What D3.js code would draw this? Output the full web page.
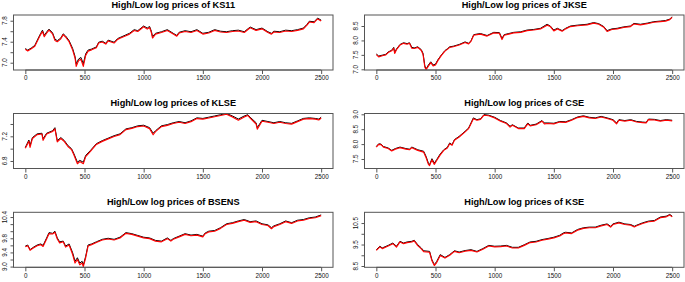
<!DOCTYPE html>
<html><head><meta charset="utf-8">
<script src="https://cdn.jsdelivr.net/npm/d3@7/dist/d3.min.js"></script>
<style>body{margin:0;background:#fff}svg{display:block}</style>
</head><body>
<svg id="chart" width="685" height="282"></svg>
<script>
// ---- data ----
const xTicks = [0, 500, 1000, 1500, 2000, 2500];

const ks11Days = [0,20,50,80,110,130,145,160,185,200,230,250,270,300,320,340,370,400,420,430,450,470,490,510,530,560,600,620,650,680,700,750,780,800,850,880,920,950,1000,1030,1050,1065,1075,1100,1150,1200,1250,1280,1300,1350,1400,1450,1500,1550,1600,1650,1700,1750,1800,1850,1900,1950,2000,2050,2080,2100,2150,2200,2250,2300,2350,2380,2400,2440,2470,2500];
const ks11High = [7.27,7.24,7.28,7.33,7.47,7.56,7.62,7.52,7.60,7.64,7.57,7.45,7.42,7.47,7.55,7.51,7.42,7.27,7.12,6.98,7.07,7.10,6.98,7.17,7.24,7.26,7.30,7.39,7.41,7.37,7.43,7.39,7.46,7.48,7.53,7.56,7.63,7.61,7.70,7.66,7.69,7.60,7.50,7.56,7.59,7.63,7.56,7.52,7.58,7.61,7.59,7.63,7.56,7.58,7.63,7.60,7.59,7.61,7.62,7.59,7.68,7.63,7.66,7.59,7.56,7.60,7.59,7.62,7.61,7.63,7.66,7.73,7.79,7.78,7.85,7.81];
const ks11Low = [7.255,7.225,7.265,7.315,7.45,7.54,7.595,7.495,7.58,7.62,7.55,7.425,7.40,7.455,7.535,7.49,7.40,7.24,7.09,6.93,7.04,7.065,6.93,7.14,7.22,7.245,7.285,7.375,7.395,7.355,7.415,7.375,7.445,7.465,7.515,7.545,7.615,7.595,7.685,7.64,7.67,7.575,7.47,7.545,7.575,7.615,7.545,7.505,7.565,7.595,7.575,7.615,7.545,7.565,7.615,7.585,7.575,7.595,7.605,7.575,7.665,7.615,7.645,7.575,7.545,7.585,7.575,7.605,7.595,7.615,7.645,7.715,7.775,7.765,7.835,7.795];

const jkseDays = [0,20,50,80,100,130,147,155,170,200,230,260,280,300,320,350,380,395,410,420,440,460,480,500,520,550,580,600,620,650,700,750,780,800,823,850,880,936,992,1040,1062,1080,1120,1161,1220,1274,1330,1387,1443,1470,1500,1530,1570,1600,1640,1700,1781,1837,1880,1922,1950,1990,2035,2090,2148,2176,2232,2290,2345,2400,2444,2480,2500];
const jkseHigh = [7.53,7.46,7.49,7.52,7.60,7.66,7.76,7.58,7.70,7.86,7.92,7.89,7.92,7.76,7.74,7.78,7.68,7.55,7.12,7.01,7.15,7.26,7.15,7.18,7.33,7.50,7.65,7.71,7.78,7.80,7.86,7.95,7.90,7.99,8.20,8.22,8.24,8.17,8.28,8.27,8.07,8.20,8.24,8.28,8.30,8.36,8.38,8.42,8.56,8.50,8.36,8.42,8.34,8.42,8.50,8.53,8.56,8.62,8.58,8.48,8.34,8.40,8.42,8.47,8.50,8.59,8.56,8.60,8.65,8.67,8.69,8.74,8.82];
const jkseLow = [7.51,7.43,7.47,7.50,7.58,7.64,7.73,7.55,7.68,7.84,7.90,7.87,7.90,7.73,7.72,7.76,7.65,7.51,7.07,6.99,7.11,7.23,7.12,7.15,7.30,7.48,7.63,7.69,7.76,7.78,7.84,7.93,7.88,7.97,8.18,8.20,8.22,8.15,8.26,8.25,8.03,8.18,8.22,8.26,8.28,8.34,8.36,8.40,8.53,8.48,8.33,8.40,8.32,8.40,8.48,8.51,8.54,8.60,8.56,8.46,8.31,8.38,8.40,8.45,8.48,8.57,8.54,8.58,8.63,8.65,8.67,8.72,8.80];

const klseDays = [0,30,40,60,100,140,150,180,230,250,270,300,330,360,390,410,440,460,490,510,550,600,650,700,750,800,850,900,950,1000,1050,1080,1100,1150,1200,1250,1300,1350,1400,1450,1500,1550,1600,1650,1700,1750,1800,1850,1880,1900,1950,1960,2000,2050,2100,2150,2200,2250,2300,2350,2400,2450,2480,2500];
const klseHigh = [7.02,7.14,7.05,7.18,7.24,7.25,7.16,7.25,7.29,7.34,7.13,7.18,7.13,7.05,7.00,6.92,6.78,6.81,6.78,6.89,6.97,7.08,7.13,7.17,7.21,7.24,7.32,7.34,7.37,7.38,7.34,7.25,7.29,7.37,7.39,7.42,7.44,7.42,7.45,7.50,7.49,7.51,7.53,7.55,7.57,7.53,7.48,7.53,7.55,7.51,7.42,7.34,7.46,7.44,7.42,7.44,7.42,7.41,7.45,7.49,7.50,7.49,7.48,7.51];
const klseLow = [7.005,7.12,7.02,7.165,7.228,7.238,7.135,7.238,7.278,7.32,7.11,7.165,7.115,7.035,6.985,6.90,6.755,6.79,6.755,6.87,6.955,7.068,7.118,7.158,7.198,7.228,7.308,7.328,7.358,7.368,7.325,7.225,7.275,7.358,7.378,7.408,7.428,7.408,7.438,7.488,7.478,7.498,7.518,7.538,7.558,7.515,7.46,7.515,7.538,7.495,7.40,7.315,7.445,7.428,7.408,7.428,7.408,7.398,7.438,7.478,7.488,7.478,7.465,7.498];

const cseDays = [0,20,40,60,100,130,160,200,250,280,300,350,400,420,440,450,470,490,510,540,570,600,620,640,660,700,750,780,800,820,850,880,910,950,1000,1050,1100,1130,1150,1200,1250,1280,1300,1350,1400,1420,1450,1500,1550,1600,1650,1700,1750,1800,1850,1900,1950,2000,2030,2050,2100,2150,2200,2250,2280,2300,2350,2400,2450,2500];
const cseHigh = [7.92,8.01,8.00,7.92,7.87,7.79,7.85,7.90,7.85,7.83,7.90,7.81,7.76,7.59,7.36,7.31,7.51,7.36,7.48,7.67,7.81,7.89,8.04,7.98,8.15,8.26,8.43,8.54,8.71,8.88,8.82,8.85,8.99,8.97,8.90,8.79,8.71,8.60,8.65,8.54,8.54,8.71,8.63,8.67,8.79,8.71,8.71,8.70,8.76,8.75,8.82,8.91,8.95,8.90,8.88,8.93,8.88,8.82,8.71,8.82,8.79,8.82,8.76,8.74,8.73,8.84,8.83,8.79,8.82,8.80];
const cseLow = [7.90,7.99,7.98,7.90,7.85,7.77,7.83,7.88,7.83,7.81,7.88,7.79,7.73,7.55,7.32,7.28,7.47,7.32,7.45,7.64,7.79,7.87,8.01,7.96,8.13,8.24,8.41,8.52,8.68,8.85,8.80,8.83,8.97,8.95,8.88,8.77,8.69,8.57,8.63,8.52,8.52,8.68,8.61,8.65,8.77,8.68,8.69,8.68,8.74,8.73,8.80,8.89,8.93,8.88,8.86,8.91,8.86,8.80,8.68,8.80,8.77,8.80,8.74,8.72,8.71,8.82,8.81,8.77,8.80,8.78];

const bsensDays = [0,20,40,60,100,130,150,180,200,230,250,270,290,320,340,370,400,420,440,460,480,490,510,530,560,600,650,700,750,800,850,900,950,1000,1050,1100,1150,1200,1230,1250,1300,1350,1400,1450,1500,1520,1550,1600,1650,1700,1750,1800,1850,1900,1950,2000,2050,2080,2100,2150,2200,2250,2300,2350,2400,2450,2500];
const bsensHigh = [9.58,9.61,9.48,9.53,9.61,9.64,9.60,9.81,9.96,9.94,10.00,9.81,9.70,9.72,9.58,9.64,9.39,9.15,9.25,9.10,9.15,9.04,9.29,9.61,9.64,9.70,9.77,9.80,9.77,9.83,9.96,9.93,9.88,9.83,9.81,9.74,9.72,9.81,9.74,9.79,9.86,9.93,9.89,9.91,9.86,9.95,10.00,10.02,10.10,10.21,10.24,10.29,10.33,10.27,10.29,10.21,10.18,10.10,10.15,10.21,10.29,10.24,10.31,10.33,10.38,10.40,10.46];
const bsensLow = [9.56,9.59,9.46,9.51,9.59,9.62,9.57,9.78,9.93,9.92,9.97,9.78,9.67,9.70,9.55,9.61,9.34,9.10,9.20,9.05,9.10,9.00,9.25,9.58,9.62,9.68,9.75,9.78,9.75,9.81,9.94,9.91,9.86,9.81,9.79,9.72,9.70,9.79,9.72,9.77,9.84,9.91,9.87,9.89,9.84,9.93,9.98,10.00,10.08,10.19,10.22,10.27,10.31,10.25,10.27,10.19,10.16,10.07,10.13,10.19,10.27,10.22,10.29,10.31,10.36,10.38,10.44];

const kseDays = [0,30,50,100,140,170,200,230,260,300,320,350,380,400,450,470,490,510,540,580,620,660,700,750,800,850,900,950,1000,1050,1100,1150,1200,1250,1300,1350,1400,1450,1500,1550,1580,1600,1650,1700,1750,1800,1850,1900,1950,1980,2000,2050,2100,2150,2180,2200,2250,2300,2350,2400,2450,2480,2500];
const kseHigh = [9.26,9.42,9.34,9.46,9.57,9.42,9.65,9.57,9.62,9.65,9.70,9.49,9.34,9.21,9.18,8.79,8.56,8.71,9.03,8.90,9.03,9.21,9.15,9.22,9.26,9.18,9.31,9.46,9.42,9.43,9.46,9.37,9.37,9.49,9.62,9.65,9.73,9.78,9.84,9.93,10.04,10.07,10.04,10.20,10.28,10.31,10.31,10.40,10.46,10.35,10.46,10.54,10.46,10.43,10.35,10.40,10.51,10.59,10.62,10.78,10.82,10.90,10.82];
const kseLow = [9.23,9.39,9.31,9.43,9.54,9.38,9.62,9.54,9.59,9.62,9.67,9.45,9.30,9.17,9.14,8.74,8.52,8.66,8.99,8.87,9.00,9.18,9.12,9.19,9.23,9.15,9.28,9.43,9.39,9.40,9.43,9.34,9.34,9.46,9.59,9.62,9.70,9.75,9.81,9.90,10.00,10.04,10.01,10.17,10.25,10.28,10.28,10.37,10.43,10.31,10.43,10.51,10.43,10.40,10.32,10.37,10.48,10.56,10.59,10.75,10.79,10.87,10.79];

const names = ["KS11", "JKSE", "KLSE", "CSE", "BSENS", "KSE"];
const ks11YTicks = [7.0,7.2,7.4,7.6,7.8],  ks11YLabels = [7.0,7.4,7.8];
const jkseYTicks = [7.0,7.5,8.0,8.5],      jkseYLabels = [7.0,7.5,8.0,8.5];
const klseYTicks = [6.8,7.0,7.2,7.4],      klseYLabels = [6.8,7.2];
const cseYTicks = [7.5,8.0,8.5,9.0],       cseYLabels = [7.5,8.0,8.5,9.0];
const bsensYTicks = [9.0,9.2,9.4,9.6,9.8,10.0,10.2,10.4], bsensYLabels = [9.0,9.4,9.8,10.4];
const kseYTicks = [8.5,9.0,9.5,10.0,10.5], kseYLabels = [8.5,9.5,10.5];

// ---- layout / scales config ----
const panels = [
  {days: ks11Days,  high: ks11High,  low: ks11Low,  ticks: ks11YTicks,  labels: ks11YLabels,  yDom: [6.861, 7.909]},
  {days: jkseDays,  high: jkseHigh,  low: jkseLow,  ticks: jkseYTicks,  labels: jkseYLabels,  yDom: [6.976, 8.881]},
  {days: klseDays,  high: klseHigh,  low: klseLow,  ticks: klseYTicks,  labels: klseYLabels,  yDom: [6.678, 7.570]},
  {days: cseDays,   high: cseHigh,   low: cseLow,   ticks: cseYTicks,   labels: cseYLabels,   yDom: [7.181, 9.027]},
  {days: bsensDays, high: bsensHigh, low: bsensLow, ticks: bsensYTicks, labels: bsensYLabels, yDom: [8.980, 10.534]},
  {days: kseDays,   high: kseHigh,   low: kseLow,   ticks: kseYTicks,   labels: kseYLabels,   yDom: [8.440, 11.000]}
];
panels.forEach((p, i) => p.name = names[i]);

const colLeft = [13.5, 364.5], boxW = 319.5;
const rowTop = [15, 113.5, 212.3], boxH = 55;

const svg = d3.select("#chart");
const font = "Liberation Sans, Arial, Helvetica, sans-serif";

panels.forEach((p, i) => {
  const col = i % 2, row = Math.floor(i / 2);
  const x0 = colLeft[col], y0 = rowTop[row];
  const g = svg.append("g");
  const x = d3.scaleLinear().domain([-100, 2600]).range([x0, x0 + boxW]);
  const y = d3.scaleLinear().domain(p.yDom).range([y0 + boxH, y0]);

  const clipId = "clip" + i;
  svg.append("clipPath").attr("id", clipId).append("rect")
    .attr("x", x0).attr("y", y0).attr("width", boxW).attr("height", boxH);

  const lineH = d3.line().x((d, k) => x(p.days[k])).y(d => y(d));
  const n = Math.min(p.days.length, p.high.length, p.low.length);
  g.append("path").datum(p.high.slice(0, n)).attr("d", lineH)
    .attr("fill", "none").attr("stroke", "#000").attr("stroke-width", 1)
    .attr("stroke-linejoin", "round")
    .attr("clip-path", `url(#${clipId})`);
  g.append("path").datum(p.low.slice(0, n)).attr("d", lineH)
    .attr("fill", "none").attr("stroke", "#ff0000").attr("stroke-width", 1.15)
    .attr("stroke-linejoin", "round")
    .attr("clip-path", `url(#${clipId})`);

  // box
  g.append("rect").attr("x", x0).attr("y", y0).attr("width", boxW).attr("height", boxH)
    .attr("fill", "none").attr("stroke", "#555").attr("stroke-width", 1);

  // x axis
  const xa = g.append("g").attr("transform", `translate(0,${y0 + boxH})`)
    .call(d3.axisBottom(x).tickValues(xTicks).tickSize(4).tickPadding(2).tickFormat(d3.format("d")));
  xa.select(".domain").attr("stroke", "#555").attr("d", `M${x(0)},0H${x(2500)}`);
  xa.selectAll(".tick line").attr("stroke", "#555");
  xa.selectAll("text").attr("font-family", font).attr("font-size", 6.3).attr("fill", "#111");

  // y axis
  const ya = g.append("g").attr("transform", `translate(${x0},0)`)
    .call(d3.axisLeft(y).tickValues(p.ticks).tickSize(3).tickFormat(""));
  ya.select(".domain").remove();
  ya.selectAll(".tick line").attr("stroke", "#555");
  g.selectAll(".ylab").data(p.labels).enter().append("text")
    .attr("transform", d => `translate(${x0 - 6.5},${y(d)}) rotate(-90)`)
    .attr("text-anchor", "middle").attr("font-family", font).attr("font-size", 6.3).attr("fill", "#111")
    .text(d => d3.format(".1f")(d));

  // title
  g.append("text").attr("x", x0 + boxW / 2).attr("y", y0 - 7.5)
    .attr("text-anchor", "middle").attr("font-family", font).attr("font-weight", "bold")
    .attr("font-size", 9.2).attr("fill", "#000")
    .text("High/Low log prices of " + p.name);
});
</script>
</body></html>
